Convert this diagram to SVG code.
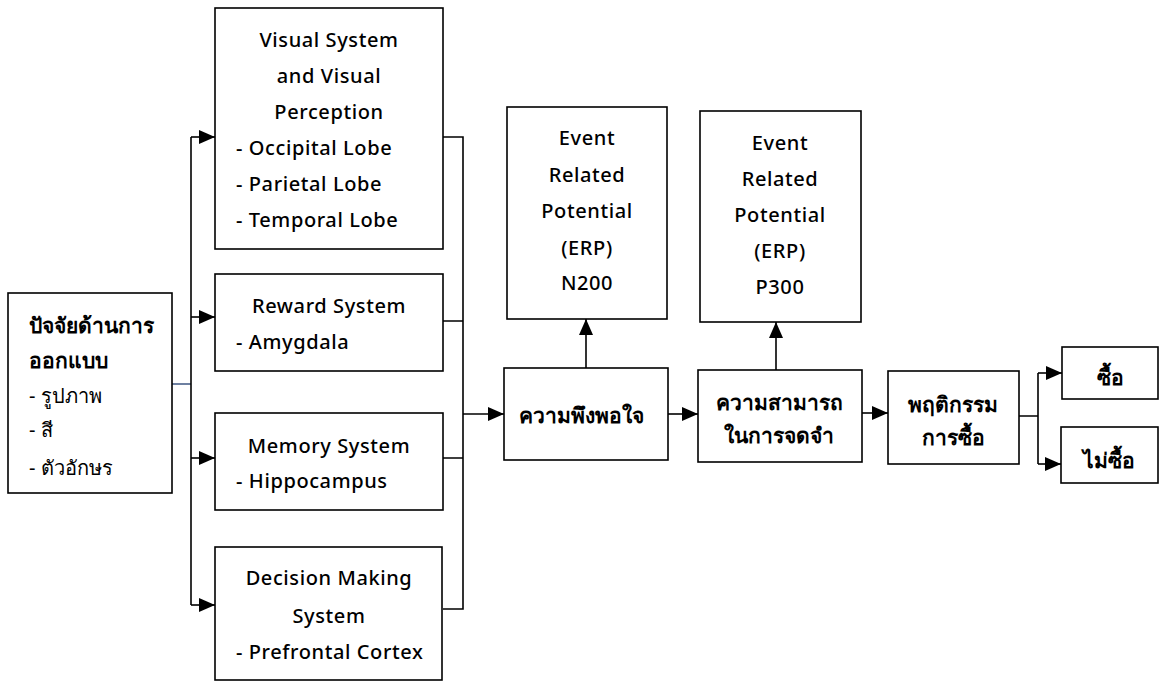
<svg xmlns="http://www.w3.org/2000/svg" width="1164" height="683" viewBox="0 0 1164 683">
  <style>
    .box { fill: #ffffff; stroke: #000000; stroke-width: 1.6; }
    .wire { fill: none; stroke: #000000; stroke-width: 1.6; }
    .arrow { marker-end: url(#head); }
    text { font-family: "Noto Sans", sans-serif; font-size: 20px; font-weight: 500; letter-spacing: 0.6px; fill: #000000; }
    .c { text-anchor: middle; }
    .th { font-size: 21px; font-weight: 600; letter-spacing: 0; }
    .th-item { font-size: 20px; font-weight: 400; letter-spacing: 0; }
  </style>
  <defs>
    <marker id="head" markerUnits="userSpaceOnUse" markerWidth="16" markerHeight="14" refX="16" refY="7" orient="auto">
      <path d="M0,0 L16,7 L0,14 Z" fill="#000000"/>
    </marker>
  </defs>

  <g id="connectors">
    <path d="M172,384 H191" fill="none" stroke="#1f3b6e" stroke-width="1.3"/>
    <path class="wire" d="M191,137 V605"/>
    <path class="wire arrow" d="M191,137 H215"/>
    <path class="wire arrow" d="M191,317 H215"/>
    <path class="wire arrow" d="M191,458 H215"/>
    <path class="wire arrow" d="M191,605 H215"/>
    <path class="wire" d="M443,137 H463 V609 H443 M443,321 H463 M443,458 H463"/>
    <path class="wire arrow" d="M463,414 H504"/>
    <path class="wire arrow" d="M586,368 V319"/>
    <path class="wire arrow" d="M668,414 H698"/>
    <path class="wire arrow" d="M776,370 V322"/>
    <path class="wire arrow" d="M862,413 H888"/>
    <path class="wire" d="M1019,416 H1038 M1038,373 V464"/>
    <path class="wire arrow" d="M1038,373 H1062"/>
    <path class="wire arrow" d="M1038,464 H1061"/>
  </g>

  <g id="design-factors">
    <rect class="box" x="8" y="293" width="164" height="200"/>
    <text class="th" x="29" y="333" font-size="19">ปัจจัยด้านการ</text>
    <text class="th" x="29" y="368" font-size="19">ออกแบบ</text>
    <text class="th-item" x="29" y="403">- รูปภาพ</text>
    <text class="th-item" x="29" y="437">- สี</text>
    <text class="th-item" x="29" y="475">- ตัวอักษร</text>
  </g>

  <g id="visual-system">
    <rect class="box" x="215" y="8" width="228" height="241"/>
    <text class="c" x="329" y="47">Visual System</text>
    <text class="c" x="329" y="83">and Visual</text>
    <text class="c" x="329" y="119">Perception</text>
    <text x="236" y="155">- Occipital Lobe</text>
    <text x="236" y="191">- Parietal Lobe</text>
    <text x="236" y="227">- Temporal Lobe</text>
  </g>

  <g id="reward-system">
    <rect class="box" x="215" y="274" width="228" height="97"/>
    <text class="c" x="329" y="313">Reward System</text>
    <text x="236" y="349">- Amygdala</text>
  </g>

  <g id="memory-system">
    <rect class="box" x="215" y="413" width="228" height="97"/>
    <text class="c" x="329" y="453">Memory System</text>
    <text x="236" y="488">- Hippocampus</text>
  </g>

  <g id="decision-system">
    <rect class="box" x="215" y="547" width="227" height="133"/>
    <text class="c" x="329" y="585">Decision Making</text>
    <text class="c" x="329" y="623">System</text>
    <text x="236" y="659">- Prefrontal Cortex</text>
  </g>

  <g id="erp-n200">
    <rect class="box" x="507" y="107" width="160" height="212"/>
    <text class="c" x="587" y="145">Event</text>
    <text class="c" x="587" y="182">Related</text>
    <text class="c" x="587" y="218">Potential</text>
    <text class="c" x="587" y="255">(ERP)</text>
    <text class="c" x="587" y="290">N200</text>
  </g>

  <g id="erp-p300">
    <rect class="box" x="700" y="111" width="161" height="211"/>
    <text class="c" x="780" y="150">Event</text>
    <text class="c" x="780" y="186">Related</text>
    <text class="c" x="780" y="222">Potential</text>
    <text class="c" x="780" y="258">(ERP)</text>
    <text class="c" x="780" y="294">P300</text>
  </g>

  <g id="satisfaction">
    <rect class="box" x="504" y="368" width="164" height="92"/>
    <text class="c th" x="581" y="423">ความพึงพอใจ</text>
  </g>

  <g id="memorability">
    <rect class="box" x="698" y="370" width="164" height="92"/>
    <text class="c th" x="779" y="410">ความสามารถ</text>
    <text class="c th" x="779" y="443">ในการจดจำ</text>
  </g>

  <g id="purchase-behaviour">
    <rect class="box" x="888" y="371" width="131" height="93"/>
    <text class="c th" x="953" y="412">พฤติกรรม</text>
    <text class="c th" x="953" y="445">การซื้อ</text>
  </g>

  <g id="buy">
    <rect class="box" x="1062" y="347" width="96" height="52"/>
    <text class="c th" x="1110" y="385">ซื้อ</text>
  </g>

  <g id="not-buy">
    <rect class="box" x="1061" y="427" width="97" height="56"/>
    <text class="c th" x="1109" y="468">ไม่ซื้อ</text>
  </g>
</svg>
